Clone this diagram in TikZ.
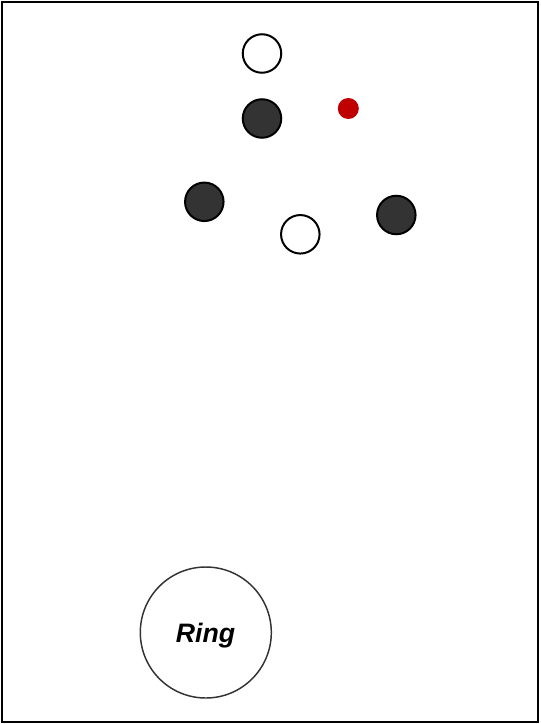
\documentclass[tikz,border=0pt]{standalone}
\usepackage{fontspec}
\setmainfont{Liberation Sans}
\definecolor{darkball}{HTML}{333333}
\definecolor{redball}{HTML}{C00000}
\begin{document}
\begin{tikzpicture}[x=0.75pt,y=-0.75pt,
  ball/.style={circle,draw=black,line width=1.5pt,minimum size=38.5*0.75pt,inner sep=0pt},
  whiteball/.style={ball,fill=white},
  darkball/.style={ball,fill=darkball},
  redball/.style={circle,fill=redball,draw=none,minimum size=21*0.75pt,inner sep=0pt},
  ring/.style={circle,draw=black!80,line width=1.1pt,minimum size=131*0.75pt,inner sep=0pt},
  ringlabel/.style={font=\fontsize{20}{22}\selectfont\bfseries\itshape,inner sep=0pt}]
\useasboundingbox (0,0) rectangle (540,724);
\draw[line width=1.5pt] (2,2) rectangle (538,722);
\node[whiteball] (w1) at (262,53.5) {};
\node[darkball] (d1) at (262,118.5) {};
\node[redball] (r1) at (348.3,108.5) {};
\node[darkball] (d2) at (204.3,201.8) {};
\node[whiteball] (w2) at (300.3,234.3) {};
\node[darkball] (d3) at (396.3,215) {};
\node[ring] (ring) at (205.8,632.5) {};
\node[ringlabel] (ringtext) at (205.5,636) {Ring};
\end{tikzpicture}
\end{document}
